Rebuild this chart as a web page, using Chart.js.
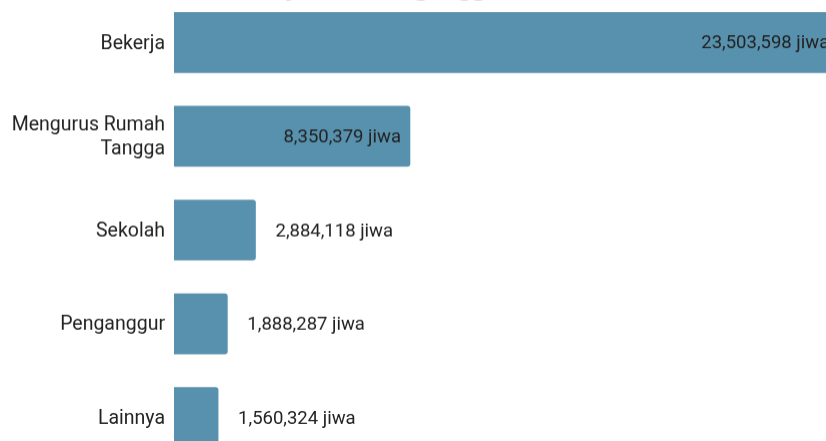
<!DOCTYPE html>
<html>
<head>
<meta charset="utf-8">
<script src="https://cdn.jsdelivr.net/npm/chart.js@4/dist/chart.umd.min.js"></script>
<style>
  html, body { margin: 0; padding: 0; width: 826px; height: 441px; overflow: hidden; background: #fff; }
  #wrap { position: absolute; left: 0; top: -40px; width: 900px; height: 503.5px; }
</style>
</head>
<body>
<div id="wrap"><canvas id="c"></canvas></div>
<script>
const categories = [["Bekerja"], ["Mengurus Rumah", "Tangga"], ["Sekolah"], ["Penganggur"], ["Lainnya"]];
const values = [23503598, 8350379, 2884118, 1888287, 1560324];
const unit = "jiwa";
const titleText = "Penduduk Bekerja dan Penganggur";

const barColor = "#5891AE";
const textColor = "#222222";
const fontFamily = "Roboto, 'Noto Sans', sans-serif";

const labelsPlugin = {
  id: "labelsPlugin",
  afterDatasetsDraw(chart) {
    const ctx = chart.ctx;
    const meta = chart.getDatasetMeta(0);
    ctx.save();
    ctx.fillStyle = textColor;
    ctx.textBaseline = "middle";
    ctx.font = "19.5px " + fontFamily;
    ctx.textAlign = "right";
    const lh = 24;
    meta.data.forEach((bar, i) => {
      const lines = categories[i];
      const y0 = bar.y + 1.5 - (lines.length - 1) * lh / 2;
      lines.forEach((ln, k) => ctx.fillText(ln, chart.chartArea.left - 9, y0 + k * lh));
    });
    ctx.font = "18.5px " + fontFamily;
    meta.data.forEach((bar, i) => {
      const txt = values[i].toLocaleString("en-US") + " " + unit;
      const w = ctx.measureText(txt).width;
      const barW = bar.x - bar.base;
      if (barW > w + 20) {
        ctx.textAlign = "right";
        ctx.fillText(txt, bar.x - 9, bar.y + 1.5);
      } else {
        ctx.textAlign = "left";
        ctx.fillText(txt, bar.x + 20, bar.y + 1.5);
      }
    });
    ctx.restore();
  }
};

const topTitle = {
  id: "topTitle",
  afterDraw(chart) {
    const ctx = chart.ctx;
    ctx.save();
    ctx.font = "bold 28px 'Liberation Serif', 'DejaVu Serif', serif";
    ctx.fillStyle = "#000";
    ctx.textAlign = "left";
    ctx.textBaseline = "alphabetic";
    const pre = ctx.measureText("Penduduk Bekerja dan Pen").width;
    const gw = ctx.measureText("g").width;
    ctx.fillText(titleText, 421 - pre - gw / 2, 34);
    ctx.restore();
  }
};

new Chart(document.getElementById("c"), {
  type: "bar",
  data: {
    labels: categories,
    datasets: [{
      data: values,
      backgroundColor: barColor,
      borderWidth: 0,
      borderRadius: 3,
      borderSkipped: "start",
      barThickness: 60
    }]
  },
  options: {
    indexAxis: "y",
    responsive: true,
    maintainAspectRatio: false,
    animation: false,
    layout: { padding: { top: 35.5, bottom: 0, left: 0, right: 0 } },
    plugins: { legend: { display: false }, tooltip: { enabled: false }, title: { display: false } },
    scales: {
      x: { display: false, min: 0, max: 25690000 },
      y: {
        grid: { display: false, drawTicks: false },
        border: { display: false },
        ticks: { display: false },
        afterFit(axis) { axis.width = 174; }
      }
    }
  },
  plugins: [labelsPlugin, topTitle]
});
</script>
</body>
</html>
